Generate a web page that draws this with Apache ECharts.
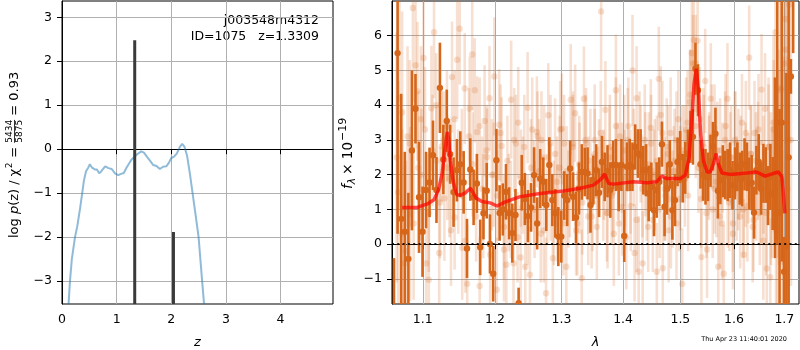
<!DOCTYPE html>
<html>
<head>
<meta charset="utf-8">
<script src="https://cdn.jsdelivr.net/npm/echarts@6/dist/echarts.min.js"></script>
<style>
html, body { margin: 0; padding: 0; background: #fff; }
#chart { width: 800px; height: 350px; }
</style>
</head>
<body>
<div id="chart"></div>
<script>
// ---- p(z) panel ----
const pzZ = [0.12, 0.146, 0.18, 0.238, 0.28, 0.33, 0.37, 0.40, 0.44, 0.48, 0.51, 0.55, 0.60, 0.64, 0.68, 0.72,
  0.79, 0.85, 0.91, 0.97, 1.03, 1.08, 1.13, 1.18, 1.27, 1.37, 1.45, 1.50, 1.56, 1.61, 1.67, 1.73, 1.79,
  1.85, 1.91, 1.96, 2.00, 2.05, 2.10, 2.16, 2.20, 2.24, 2.29, 2.34, 2.39, 2.44, 2.50, 2.565, 2.60]
const pzLog = [-3.52, -3.0, -2.5, -2.0, -1.75, -1.35, -1.0, -0.72, -0.5, -0.42, -0.34, -0.42, -0.46, -0.46, -0.55, -0.50,
  -0.39, -0.43, -0.45, -0.55, -0.59, -0.56, -0.54, -0.42, -0.24, -0.12, -0.05, -0.08, -0.18, -0.26, -0.36, -0.38, -0.45,
  -0.40, -0.39, -0.30, -0.20, -0.17, -0.10, 0.06, 0.12, 0.06, -0.15, -0.55, -1.0, -1.45, -2.0, -3.0, -3.52]
const spikeZ = [1.331, 2.04]
const spikeTop = [2.48, -1.88]
const zTicks = [0, 1, 2, 3, 4]
const logpTicks = [-3, -2, -1, 0, 1, 2, 3]

// ---- spectrum panel ----
// dark points sit on the grism pixel grid (start + step in microns)
const darkLamStart = 1.0625, darkLamStep = 0.00465
const darkFlux = [
  -2.0, 5.5, 0.73, 0.36, -0.42, 2.7, 3.9, 1.35, 0.36, 1.56,
  1.78, 2.56, 1.56, 4.5, 2.44, 3.55, 2.59, 1.5, 2.13, 2.3,
  1.78, -0.12, 2.15, 1.35, 1.75, -0.09, 0.89, 1.54, 0.01, -0.85,
  2.42, 0.9, 1.0, 1.51, 0.89, 0.32, 0.84, -1.7, 1.77, 1.3,
  0.81, 1.06, 1.99, 0.6, 1.89, 1.8, 1.13, 2.28, 1.27, 0.89,
  0.22, 0.22, 1.4, 1.27, 2.18, 1.37, 0.77, 1.6, 2.08, 2.08,
  2.04, 1.13, 1.85, 2.13, 1.48, 2.37, 1.94, 2.1, 1.56, 2.28,
  2.28, 1.65, 2.28, 0.24, 2.23, 2.28, 2.23, 2.8, 2.61, 2.56,
  2.13, 2.13, 1.46, 1.65, 0.98, 1.56, 1.8, 2.88, 1.08, 1.6,
  2.3, 0.98, 1.27, 2.37, 2.51, 1.9, 2.2, 2.6, 3.09, 3.09,
  5.05, 4.43, 2.3, 2.0, 1.94, 1.94, 2.4, 2.82, 3.18, 1.54,
  1.85, 2.1, 1.99, 1.99, 2.13, 1.7, 2.04, 2.23, 1.89, 1.89,
  2.3, 2.23, 1.75, 1.77, 0.91, 2.13, 2.37, 1.6, 2.04, 1.99,
  1.4, 1.94, 1.46, 2.2, 3.5, 0.89, 3.5, -0.79, -0.07, 2.5,
  4.83, 9.0]
const darkErr = [
  1.6, 5.2, 3.6, 2.3, 1.9, 2.3, 1.0, 1.6, 1.3, 1.1,
  1.0, 1.0, 0.95, 1.3, 1.0, 0.9, 0.85, 1.0, 0.9, 0.95,
  0.9, 0.85, 0.9, 0.8, 0.85, 0.8, 0.75, 0.8, 0.85, 0.8,
  0.9, 0.8, 0.75, 0.8, 0.75, 0.85, 0.75, 0.45, 0.8, 0.75,
  0.75, 0.7, 0.8, 0.75, 0.85, 0.7, 0.75, 0.8, 0.75, 0.7,
  0.85, 0.75, 0.7, 0.75, 0.8, 0.7, 0.75, 0.75, 0.8, 0.7,
  0.75, 0.8, 0.7, 0.75, 0.7, 0.75, 0.7, 0.75, 0.8, 0.7,
  0.75, 0.7, 0.75, 0.75, 0.7, 0.75, 0.7, 0.65, 0.7, 0.75,
  0.7, 0.75, 0.8, 0.7, 0.75, 0.8, 0.7, 0.65, 0.85, 0.75,
  0.7, 0.85, 0.75, 0.7, 0.75, 0.7, 0.75, 0.7, 0.75, 0.8,
  0.75, 0.75, 0.7, 0.75, 0.8, 0.7, 0.75, 0.7, 0.75, 0.8,
  0.7, 0.75, 0.7, 0.75, 0.8, 0.7, 0.75, 0.7, 0.75, 0.8,
  0.75, 0.7, 0.75, 0.8, 0.75, 0.7, 0.8, 0.75, 0.85, 0.8,
  0.85, 0.95, 1.05, 2.6, 3.5, 3.0, 4.0, 1.0, 5.0, 5.0,
  0.5, 3.5]
// faint points, first beam
const faintLamStart = 1.066, faintLamStep = 0.0035
const faintFlux = [
  2.5, 4.2, 0.3, -0.55, 3.1, 0.87, 6.8, 5.15, 2.2, 3.6,
  5.36, -0.55, -1.02, 3.91, 6.1, 2.4, -0.25, 2.82, 1.32, 3.4,
  1.9, 4.81, 0.77, 5.31, 6.2, -0.1, 4.48, -1.14, 3.9, 5.46,
  4.43, 3.23, -1.2, 1.6, 3.55, 2.51, 4.2, 2.0, 4.83, -1.31,
  3.44, 2.83, -0.15, -0.59, 1.2, 4.16, -0.55, 2.9, 3.5, -0.38,
  1.7, -0.65, 3.93, -0.88, 3.3, 1.0, 3.23, 2.1, 3.0, 0.4,
  -1.41, 3.71, 1.5, -0.4, 2.6, 0.9, 2.2, 3.32, 2.9, -0.65,
  1.3, 4.16, 2.8, 3.77, 0.6, 1.9, -0.98, 4.19, 2.9, 0.8,
  2.4, 1.2, 3.0, 0.5, 2.2, 6.7, 1.6, 3.87, 0.9, 2.5,
  1.4, 0.3, 4.43, 2.1, 3.1, 1.07, 2.7, 0.2, 3.4, 1.8,
  5.0, -0.25, 4.2, -0.79, 2.6, -0.55, 3.0, 1.5, 2.3, 3.35,
  0.7, 2.0, -0.79, 4.76, 3.72, -0.69, 1.6, 2.8, 0.4, 3.2,
  1.3, 2.4, 0.6, 3.6, 1.9, -1.14, 2.6, 3.3, 1.4, 4.1,
  5.5, 5.88, 5.2, 5.86, 3.6, -0.37, 2.9, 4.7, -0.15, 2.2,
  4.19, 1.0, 3.1, 1.8, -0.65, 2.7, 0.6, -0.85, 3.4, 4.19,
  1.2, 2.5, 0.3, 3.0, 1.6, 2.3, 0.8, 3.5, -0.3, 2.0,
  1.1, 5.37, 2.6, 0.5, 3.2, 1.7, 2.4, 0.9, 4.45, 0.1,
  3.9, -0.7, 2.8, -0.95, 1.5, 3.3, 6.1, 0.4, 2.2, 4.43,
  -0.5, 5.2, 6.48, 1.6, 6.9, 3.0]
const faintErr = [
  3.6, 3.2, 3.0, 2.8, 2.6, 2.5, 2.7, 2.4, 2.2, 2.1,
  2.0, 1.9, 2.0, 1.8, 1.9, 1.6, 1.7, 1.6, 1.8, 1.6,
  1.7, 1.6, 1.5, 1.7, 1.6, 1.5, 1.6, 1.7, 1.5, 1.6,
  1.5, 1.6, 1.4, 1.5, 1.6, 1.4, 1.5, 1.6, 1.7, 1.5,
  1.6, 1.4, 1.5, 1.6, 1.4, 1.7, 1.5, 1.4, 1.6, 1.5,
  1.4, 1.5, 1.6, 1.4, 1.5, 1.4, 1.6, 1.5, 1.4, 1.5,
  1.6, 1.5, 1.4, 1.5, 1.6, 1.4, 1.5, 1.6, 1.4, 1.5,
  1.4, 1.6, 1.5, 1.4, 1.5, 1.6, 1.4, 1.5, 1.6, 1.4,
  1.5, 1.4, 1.6, 1.5, 1.4, 1.7, 1.5, 1.4, 1.6, 1.5,
  1.4, 1.5, 1.6, 1.4, 1.5, 1.4, 1.6, 1.5, 1.4, 1.5,
  1.6, 1.4, 1.5, 1.6, 1.4, 1.5, 1.6, 1.4, 1.5, 1.4,
  1.5, 1.6, 1.4, 1.5, 1.4, 1.6, 1.5, 1.4, 1.5, 1.6,
  1.4, 1.5, 1.6, 1.4, 1.5, 1.6, 1.4, 1.5, 1.6, 1.5,
  1.6, 1.5, 1.4, 1.6, 1.5, 1.4, 1.6, 1.5, 1.4, 1.5,
  1.6, 1.4, 1.5, 1.6, 1.4, 1.5, 1.6, 1.4, 1.5, 1.6,
  1.4, 1.5, 1.6, 1.4, 1.5, 1.6, 1.5, 1.4, 1.6, 1.5,
  1.6, 1.5, 1.4, 1.6, 1.5, 1.6, 1.7, 1.5, 1.6, 1.7,
  1.6, 1.7, 1.8, 1.7, 1.9, 2.0, 2.3, 2.5, 2.8, 3.0,
  3.2, 3.4, 3.6, 3.8, 4.0, 4.2]
// faint points, second beam
const faint2LamStart = 1.068, faint2LamStep = 0.005
const faint2Flux = [
  1.5, 3.8, -0.2, 2.9, 0.6, 4.4, 2.0, 3.3, 0.9, 2.7,
  4.0, 1.2, 3.0, 2.2, 0.4, 3.6, 1.8, 2.6, 0.1, 3.1,
  2.3, 0.8, 3.4, 1.1, 2.7, -0.3, 2.0, 1.4, 3.2, 0.5,
  2.4, 1.0, 3.0, 0.2, 1.9, 2.8, 0.7, 2.2, 1.5, 3.1,
  0.3, 2.5, 1.3, 2.9, 0.9, 1.8, 3.3, 0.6, 2.1, 1.6,
  2.9, 0.4, 2.3, 1.2, 3.0, 1.7, 0.8, 2.6, 1.4, 3.2,
  2.0, 0.9, 2.8, 1.5, 3.4, 0.6, 2.2, 1.9, 3.0, 1.1,
  2.5, 0.7, 3.1, 1.6, 2.3, 0.5, 2.9, 1.8, 2.4, 1.0,
  3.2, 1.4, 2.6, 0.8, 2.1, 3.0, 1.3, 2.7, 1.9, 3.5,
  4.3, 5.2, 3.4, 2.2, 1.3, 2.8, 0.9, 2.4, 3.1, 1.6,
  2.7, 0.8, 2.2, 3.0, 1.4, 2.5, 0.6, 2.9, 1.7, 2.3,
  1.0, 3.2, 1.9, 2.6, 0.7, 2.4, 3.3, 1.5, 2.0, 0.9,
  2.8, 1.6, 3.5, 0.4, 2.6, 4.5, 1.8, 5.6, 3.0]
const faint2Err = [
  3.2, 2.9, 2.6, 2.4, 2.2, 2.0, 1.9, 1.8, 1.7, 1.6,
  1.5, 1.6, 1.4, 1.5, 1.6, 1.4, 1.5, 1.3, 1.5, 1.4,
  1.5, 1.3, 1.4, 1.5, 1.3, 1.4, 1.5, 1.3, 1.4, 1.5,
  1.3, 1.4, 1.5, 1.3, 1.4, 1.5, 1.3, 1.4, 1.5, 1.3,
  1.4, 1.5, 1.3, 1.4, 1.5, 1.3, 1.4, 1.5, 1.3, 1.4,
  1.5, 1.3, 1.4, 1.5, 1.3, 1.4, 1.5, 1.3, 1.4, 1.5,
  1.3, 1.4, 1.5, 1.3, 1.4, 1.5, 1.3, 1.4, 1.5, 1.3,
  1.4, 1.5, 1.3, 1.4, 1.5, 1.3, 1.4, 1.5, 1.3, 1.4,
  1.5, 1.3, 1.4, 1.5, 1.3, 1.4, 1.5, 1.3, 1.4, 1.5,
  1.3, 1.4, 1.5, 1.3, 1.4, 1.5, 1.3, 1.4, 1.5, 1.3,
  1.4, 1.5, 1.3, 1.4, 1.5, 1.3, 1.4, 1.5, 1.3, 1.4,
  1.4, 1.5, 1.3, 1.4, 1.5, 1.4, 1.6, 1.5, 1.7, 1.8,
  2.0, 2.2, 2.5, 2.8, 3.0, 3.3, 3.6, 4.0, 4.4]
// best-fit template
const modelLam = [1.073, 1.093, 1.106, 1.115, 1.121, 1.126, 1.129, 1.133, 1.135, 1.137, 1.141, 1.146, 1.152,
  1.158, 1.165, 1.168, 1.173, 1.181, 1.193, 1.203, 1.215, 1.237, 1.267, 1.303, 1.330, 1.351, 1.362, 1.369,
  1.376, 1.384, 1.418, 1.441, 1.458, 1.467, 1.476, 1.500, 1.509, 1.516, 1.521, 1.525, 1.529, 1.533, 1.537,
  1.542, 1.549, 1.555, 1.561, 1.566, 1.570, 1.577, 1.593, 1.625, 1.644, 1.661, 1.674, 1.688, 1.695, 1.698, 1.701]
const modelFlux = [1.06, 1.06, 1.16, 1.28, 1.56, 2.04, 2.61, 3.23, 3.0, 2.42, 1.80, 1.42, 1.42,
  1.48, 1.61, 1.51, 1.33, 1.23, 1.19, 1.10, 1.22, 1.37, 1.46, 1.53, 1.61, 1.70, 1.85, 2.02,
  1.75, 1.73, 1.80, 1.77, 1.80, 1.96, 1.89, 1.89, 1.99, 2.51, 3.66, 4.62, 5.05, 4.43, 3.18,
  2.42, 2.08, 2.08, 2.32, 2.61, 2.32, 2.05, 2.01, 2.05, 2.08, 1.96, 2.02, 2.08, 1.94, 1.46, 0.89]
const lamTicks = [1.1, 1.2, 1.3, 1.4, 1.5, 1.6, 1.7]
const fluxTicks = [-1, 0, 1, 2, 3, 4, 5, 6]

const FONT = 'DejaVu Sans'
const SPEC_YMIN = -1.72, SPEC_YMAX = 7.0
const PZ_YMIN = -3.52, PZ_YMAX = 3.37
const ORANGE = '#d6661a'

const minus = v => (v < 0 ? '\u2212' + Math.abs(v) : String(v))

function errorBars(lamStart, lamStep, flux, err, opacity, z) {
  return {
    type: 'custom',
    xAxisIndex: 1,
    yAxisIndex: 1,
    clip: true,
    silent: true,
    z: z,
    data: flux.map((f, i) => [lamStart + lamStep * i, f, err[i]]),
    encode: { x: 0, y: 1 },
    renderItem(params, api) {
      const x = api.value(0), y = api.value(1), e = api.value(2)
      const lo = Math.max(y - e, SPEC_YMIN), hi = Math.min(y + e, SPEC_YMAX)
      const children = []
      if (hi > lo) {
        const p1 = api.coord([x, lo]), p2 = api.coord([x, hi])
        children.push({ type: 'line', shape: { x1: p1[0], y1: p1[1], x2: p2[0], y2: p2[1] },
          style: { stroke: ORANGE, lineWidth: 2.6, opacity: opacity } })
      }
      if (y > SPEC_YMIN && y < SPEC_YMAX) {
        const c = api.coord([x, y])
        children.push({ type: 'circle', shape: { cx: c[0], cy: c[1], r: 3.2 },
          style: { fill: ORANGE, opacity: opacity } })
      }
      return { type: 'group', children: children }
    }
  }
}

// text widths for the hand-built axis titles
const mctx = document.createElement('canvas').getContext('2d')
function tw(s, size, style) {
  mctx.font = (style || '') + ' ' + size + 'px "' + FONT + '"'
  return mctx.measureText(s).width
}

function labelPiece(text, x, y, size, style) {
  return { type: 'text', x: x, y: y,
    style: { text: text, fill: '#000', fontSize: size, fontFamily: FONT, fontStyle: style || 'normal',
      align: 'left', verticalAlign: 'middle' } }
}

// left y title: log p(z) / chi^2 = 5434/5875 = 0.93
function leftTitle() {
  const S = 13, s = 9
  const kids = []
  let x = 0
  kids.push(labelPiece('log ', x, 0, S)); x += tw('log ', S)
  kids.push(labelPiece('p', x, 0, S, 'italic')); x += tw('p', S, 'italic')
  kids.push(labelPiece('(z) / \u03c7', x, 0, S)); x += tw('(z) / \u03c7', S)
  kids.push(labelPiece('2', x + 0.5, -5, s)); x += tw('2', s) + 1
  kids.push(labelPiece(' = ', x, 0, S)); x += tw(' = ', S)
  const fw = Math.max(tw('5434', s), tw('5875', s))
  kids.push(labelPiece('5434', x, -5, s))
  kids.push(labelPiece('5875', x, 4.5, s))
  kids.push({ type: 'line', shape: { x1: x, y1: -0.5, x2: x + fw, y2: -0.5 }, style: { stroke: '#000', lineWidth: 0.8 } })
  x += fw
  kids.push(labelPiece(' = 0.93', x, 0, S))
  return { type: 'group', x: 15, y: 238, rotation: Math.PI / 2, children: kids }
}

function rightTitle() {
  const S = 13.5, s = 11
  const kids = []
  let x = 0
  kids.push(labelPiece('f', x, 0, S, 'italic')); x += tw('f', S, 'italic')
  kids.push(labelPiece('\u03bb', x, 4, s, 'italic')); x += tw('\u03bb', s, 'italic') + 3
  kids.push(labelPiece('\u00d7 10', x, 0, S)); x += tw('\u00d7 10', S) + 1
  kids.push(labelPiece('\u221219', x, -5, s))
  return { type: 'group', x: 348, y: 189, rotation: Math.PI / 2, children: kids }
}

const axisCommon = {
  axisLine: { show: true, lineStyle: { color: '#000', width: 1 } },
  splitLine: { show: true, lineStyle: { color: '#b0b0b0', width: 1 } }
}

const chart = echarts.init(document.getElementById('chart'))
chart.setOption({
  animation: false,
  backgroundColor: '#fff',
  textStyle: { fontFamily: FONT },
  grid: [
    { left: 62, top: 1, width: 271, height: 303, outerBoundsMode: 'none', containLabel: false,
      show: true, borderColor: '#000', borderWidth: 1, backgroundColor: 'transparent' },
    { left: 392, top: 1, width: 407, height: 303, outerBoundsMode: 'none', containLabel: false,
      show: true, borderColor: '#000', borderWidth: 1, backgroundColor: 'transparent' }
  ],
  xAxis: [
    Object.assign({}, axisCommon, {
      type: 'value', gridIndex: 0, min: 0, max: 4.96,
      axisTick: { show: true, length: 5, customValues: zTicks, lineStyle: { color: '#000' } },
      axisLabel: { customValues: zTicks, fontSize: 12.5, color: '#000', margin: 9, formatter: minus },
      name: 'z', nameLocation: 'middle', nameGap: 32,
      nameTextStyle: { fontSize: 13, fontStyle: 'italic', color: '#000' }
    }),
    Object.assign({}, axisCommon, {
      type: 'log', logBase: 10, gridIndex: 1, min: 1.06, max: 1.7303,
      axisTick: { show: true, length: 5, customValues: lamTicks, lineStyle: { color: '#000' } },
      axisLabel: { customValues: lamTicks, fontSize: 12.5, color: '#000', margin: 9, formatter: v => Number(v).toFixed(1) },
      name: '\u03bb', nameLocation: 'middle', nameGap: 32,
      nameTextStyle: { fontSize: 13, fontStyle: 'italic', color: '#000' }
    })
  ],
  yAxis: [
    Object.assign({}, axisCommon, {
      type: 'value', gridIndex: 0, min: PZ_YMIN, max: PZ_YMAX,
      axisTick: { show: true, length: 5, customValues: logpTicks, lineStyle: { color: '#000' } },
      axisLabel: { customValues: logpTicks, fontSize: 12.5, color: '#000', margin: 10, formatter: minus }
    }),
    Object.assign({}, axisCommon, {
      type: 'value', gridIndex: 1, min: SPEC_YMIN, max: SPEC_YMAX,
      axisTick: { show: true, length: 5, customValues: fluxTicks, lineStyle: { color: '#000' } },
      axisLabel: { customValues: fluxTicks, fontSize: 12.5, color: '#000', margin: 10, formatter: minus }
    })
  ],
  graphic: [
    leftTitle(),
    rightTitle(),
    { type: 'text', x: 319, y: 21, style: { text: 'j003548m4312', fontSize: 12.5, fontFamily: FONT, fill: '#000', align: 'right', verticalAlign: 'middle' } },
    { type: 'text', x: 319, y: 37, style: { text: 'ID=1075   z=1.3309', fontSize: 12.5, fontFamily: FONT, fill: '#000', align: 'right', verticalAlign: 'middle' } },
    { type: 'text', x: 787, y: 339, style: { text: 'Thu Apr 23 11:40:01 2020', fontSize: 6.5, fontFamily: FONT, fill: '#000', align: 'right', verticalAlign: 'middle' } }
  ],
  series: [
    {
      type: 'line', xAxisIndex: 0, yAxisIndex: 0, clip: true, silent: true, z: 3,
      data: pzZ.map((v, i) => [v, pzLog[i]]),
      symbol: 'none',
      lineStyle: { color: '#1f77b4', width: 2, opacity: 0.5 }
    },
    ...spikeZ.map((v, i) => ({
      type: 'line', xAxisIndex: 0, yAxisIndex: 0, clip: true, silent: true, z: 4,
      data: [[v, PZ_YMIN], [v, spikeTop[i]]],
      symbol: 'none',
      lineStyle: { color: '#3a3a3a', width: 3 }
    })),
    errorBars(faintLamStart, faintLamStep, faintFlux, faintErr, 0.2, 2),
    errorBars(faint2LamStart, faint2LamStep, faint2Flux, faint2Err, 0.2, 2),
    errorBars(darkLamStart, darkLamStep, darkFlux, darkErr, 1, 3),
    {
      type: 'line', xAxisIndex: 1, yAxisIndex: 1, clip: true, silent: true, z: 5,
      data: modelLam.map((v, i) => [v, modelFlux[i]]),
      symbol: 'none',
      lineStyle: { color: '#ff0000', width: 3.5, opacity: 0.7 },
      markLine: {
        silent: true, symbol: ['none', 'none'], label: { show: false },
        lineStyle: { color: '#000', width: 2, type: [2, 3.3], opacity: 0.85 },
        data: [{ yAxis: 0 }]
      }
    }
  ]
})
</script>
</body>
</html>
